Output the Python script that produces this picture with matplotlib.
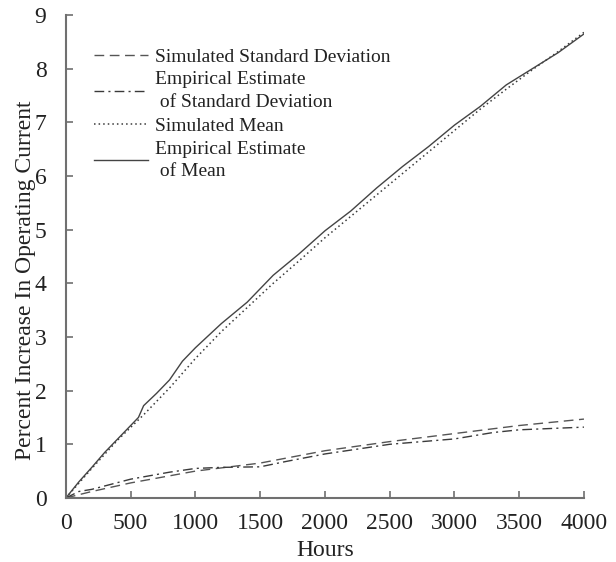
import matplotlib
matplotlib.use("Agg")
import matplotlib.pyplot as plt

hours_emp_mean = [0, 100, 200, 300, 400, 500, 560, 600, 700, 800, 900, 1000, 1200, 1400, 1600,
                  1800, 2000, 2200, 2400, 2600, 2800, 3000, 3200, 3400, 3600, 3800, 4000]
emp_mean = [0, 0.30, 0.57, 0.85, 1.10, 1.35, 1.50, 1.72, 1.95, 2.20, 2.55, 2.80, 3.25, 3.65, 4.15,
            4.55, 4.98, 5.35, 5.78, 6.18, 6.55, 6.95, 7.30, 7.70, 8.00, 8.30, 8.65]

hours_sim_mean = [0, 200, 400, 600, 800, 1000, 1200, 1400, 1600, 1800, 2000, 2200, 2400, 2600,
                  2800, 3000, 3200, 3400, 3600, 3800, 4000]
sim_mean = [0, 0.55, 1.08, 1.55, 2.05, 2.60, 3.10, 3.55, 4.00, 4.42, 4.85, 5.25, 5.65, 6.05,
            6.45, 6.85, 7.25, 7.62, 7.98, 8.32, 8.68]

hours_sim_sd = [0, 200, 500, 1000, 1500, 2000, 2500, 3000, 3500, 4000]
sim_sd = [0, 0.12, 0.28, 0.50, 0.65, 0.88, 1.05, 1.20, 1.35, 1.47]

hours_emp_sd = [0, 100, 200, 500, 800, 1000, 1200, 1500, 1700, 2000, 2500, 3000, 3300, 3500, 4000]
emp_sd = [0, 0.12, 0.16, 0.35, 0.48, 0.55, 0.57, 0.58, 0.68, 0.82, 1.00, 1.10, 1.22, 1.27, 1.32]

labels = ["Simulated Standard Deviation",
          "Empirical Estimate\n of Standard Deviation",
          "Simulated Mean",
          "Empirical Estimate\n of Mean"]

plt.rcParams['font.family'] = ['Liberation Serif', 'DejaVu Serif']

fig = plt.figure(figsize=(6.16, 5.62), dpi=100)
ax = fig.add_axes([0.107, 0.114, 0.841, 0.859])

lc = '#3a3a3a'
ax.plot(hours_sim_sd, sim_sd, color='#555555', lw=1.0, dashes=(7, 4), label=labels[0])
ax.plot(hours_emp_sd, emp_sd, color=lc, lw=1.0, dashes=(7, 3, 1.5, 3), label=labels[1])
ax.plot(hours_sim_mean, sim_mean, color=lc, lw=1.1, linestyle=(0, (1, 2)), label=labels[2])
ax.plot(hours_emp_mean, emp_mean, color='#444444', lw=1.0, linestyle='-', label=labels[3])

ax.set_xlim(0, 4000)
ax.set_ylim(0, 9)
ax.set_xticks(range(0, 4001, 500))
ax.set_yticks(range(0, 10))

axc = '#707070'
for s in ['top', 'right']:
    ax.spines[s].set_visible(False)
for s in ['left', 'bottom']:
    ax.spines[s].set_color(axc)
    ax.spines[s].set_linewidth(1.5)
ax.tick_params(direction='in', length=5, width=1.2, color=axc, labelsize=17,
               labelcolor='#222222')
ax.tick_params(axis='x', pad=11)
ax.tick_params(axis='y', pad=14)

ax.set_xlabel('Hours', fontsize=17, color='#222222', labelpad=4)
ax.set_ylabel('Percent Increase In Operating Current', fontsize=17, color='#222222')
ax.yaxis.set_label_coords(-0.058, 0.45)

leg = ax.legend(loc='upper left', bbox_to_anchor=(0.04, 0.948), frameon=False,
                fontsize=14, handlelength=2.75, handletextpad=0.36, labelspacing=0.3,
                borderaxespad=0)
for t in leg.get_texts():
    t.set_color('#222222')
    t.set_linespacing(1.45)

fig.savefig('out.png', dpi=100)
